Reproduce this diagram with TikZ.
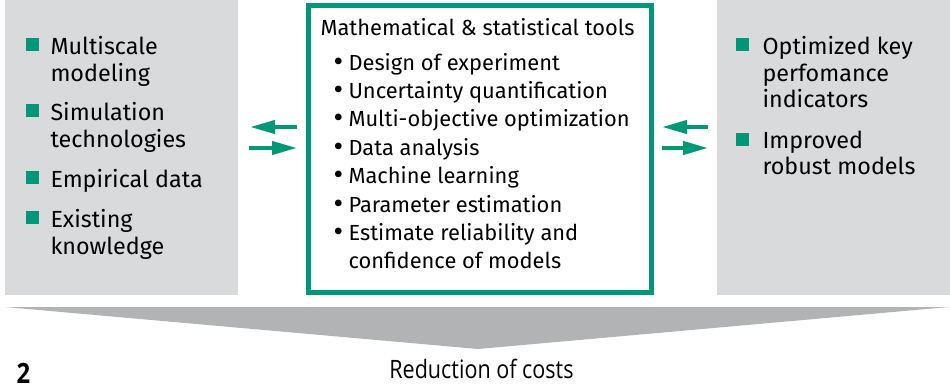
\documentclass[tikz,border=0pt]{standalone}
\usepackage{fontspec}
\setmainfont{Fira Sans}
\newfontfamily\narrowfont[FakeStretch=0.85]{Open Sans}
\usetikzlibrary{arrows.meta}

\definecolor{fhgreen}{RGB}{0,150,120}
\definecolor{boxgray}{RGB}{217,218,219}
\definecolor{wedgegray}{RGB}{178,179,180}

\tikzset{every picture/.style={line width=0.75pt}}
\tikzset{
  itemtext/.style={anchor=north west, inner sep=0pt, align=left, font=\fontsize{17.5}{19.9}\selectfont},
  tooltext/.style={anchor=north west, inner sep=0pt, align=left, font=\fontsize{16.4}{21.3}\selectfont},
  greensq/.style={fill=fhgreen, draw=none, inner sep=0pt, minimum size=9.75pt},
  flowarr/.style={draw=fhgreen, line width=3pt, -{Triangle[length=18.75pt, width=9.75pt]}}
}
\newcommand{\tbul}{\makebox[11.25pt][l]{\raisebox{-0.8pt}{\scalebox{1.35}{\textbullet}}}}

\begin{document}
\begin{tikzpicture}[x=0.75pt,y=0.75pt,yscale=-1,xscale=1]
\useasboundingbox (0,0) rectangle (950,390);

%Shape: Rectangle [left box]
\draw  [fill=boxgray, draw=none] (5,0) rectangle (238,295) ;
%Shape: Rectangle [right box]
\draw  [fill=boxgray, draw=none] (717,0) rectangle (950,295) ;
%Shape: Rectangle [tools box]
\draw  [draw=fhgreen, line width=3.75pt] (308.5,5.5) rectangle (651.5,292.5) ;
%Shape: Triangle [costs wedge]
\draw  [fill=wedgegray, draw=none] (5,307) -- (949,307) -- (478,349) -- cycle ;

%Inputs
\node [greensq] (sq1) at (32,44.5) {};
\node [itemtext] (in1) at (50,36) {Multiscale\\modeling};
\node [greensq] (sq2) at (32,110.5) {};
\node [itemtext] (in2) at (50,102) {Simulation\\technologies};
\node [greensq] (sq3) at (32,177.5) {};
\node [itemtext] (in3) at (50,169) {Empirical data};
\node [greensq] (sq4) at (32,217.5) {};
\node [itemtext] (in4) at (50,209) {Existing\\knowledge};

%Tools
\node [anchor=base west, inner sep=0pt, font=\fontsize{16.4}{21.3}\selectfont] (title) at (320,35) {Mathematical \& statistical tools};
\node [tooltext] (tools) at (333,52.5) {\tbul Design of experiment\\
\tbul Uncertainty quantification\\
\tbul Multi-objective optimization\\
\tbul Data analysis\\
\tbul Machine learning\\
\tbul Parameter estimation\\
\tbul Estimate reliability and\\
\makebox[11.25pt][l]{}confidence of models};

%Outputs
\node [greensq] (sq5) at (742.5,44.5) {};
\node [itemtext] (out1) at (762,36) {Optimized key\\perfomance\\indicators};
\node [greensq] (sq6) at (742.5,139.5) {};
\node [itemtext] (out2) at (762,130) {Improved\\robust models};

%Arrows
\coordinate (la) at (297,127);
\coordinate (lb) at (250,127);
\coordinate (lc) at (249,148);
\coordinate (ld) at (297,148);
\coordinate (ra) at (708,127);
\coordinate (rb) at (662,127);
\coordinate (rc) at (662,148);
\coordinate (rd) at (708,148);
\draw [flowarr] (la) -- (lb) ;
\draw [flowarr] (lc) -- (ld) ;
\draw [flowarr] (ra) -- (rb) ;
\draw [flowarr] (rc) -- (rd) ;

%Bottom
\node [anchor=base, inner sep=0pt, font=\narrowfont\fontsize{19}{22}\selectfont] (costs) at (481.5,378) {Reduction of costs};
\node [anchor=base west, inner sep=0pt, font=\narrowfont\bfseries\fontsize{21}{24}\selectfont] (fig) at (16,383) {2};

\end{tikzpicture}
\end{document}
